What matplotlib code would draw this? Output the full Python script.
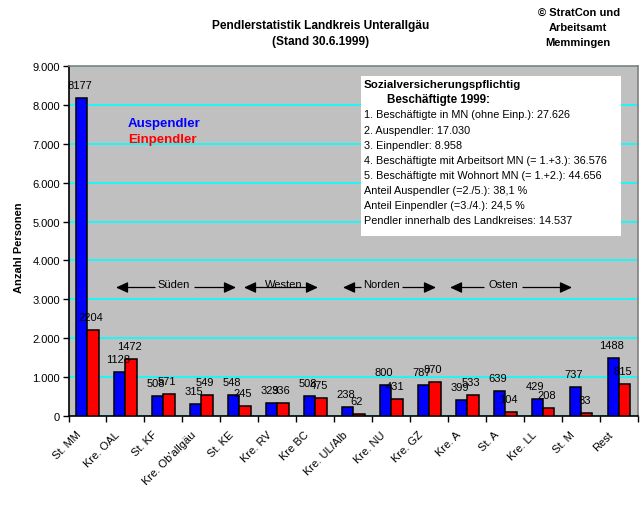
import matplotlib
matplotlib.use("Agg")
import matplotlib.pyplot as plt
import numpy as np

plt.rcParams['font.family'] = ['Liberation Sans', 'DejaVu Sans']

categories = ["St. MM", "Kre. OAL", "St. KF", "Kre. Ob'allgäu", "St. KE", "Kre. RV", "Kre BC",
              "Kre. UL/Alb", "Kre. NU", "Kre. GZ", "Kre. A", "St. A", "Kre. LL", "St. M", "Rest"]
auspendler = [8177, 1128, 508, 315, 548, 329, 508, 238, 800, 787, 399, 639, 429, 737, 1488]
einpendler = [2204, 1472, 571, 549, 245, 336, 475, 62, 431, 870, 533, 104, 208, 83, 815]
yticks = [0, 1000, 2000, 3000, 4000, 5000, 6000, 7000, 8000, 9000]
yticklabels = ["0", "1.000", "2.000", "3.000", "4.000", "5.000", "6.000", "7.000", "8.000", "9.000"]
box_lines = ["1. Beschäftigte in MN (ohne Einp.): 27.626",
             "2. Auspendler: 17.030",
             "3. Einpendler: 8.958",
             "4. Beschäftigte mit Arbeitsort MN (= 1.+3.): 36.576",
             "5. Beschäftigte mit Wohnort MN (= 1.+2.): 44.656",
             "Anteil Auspendler (=2./5.): 38,1 %",
             "Anteil Einpendler (=3./4.): 24,5 %",
             "Pendler innerhalb des Landkreises: 14.537"]

W, H = 642, 510
fig = plt.figure(figsize=(W / 100, H / 100), dpi=100, facecolor='white')
L, R, T, B = 68.5, 638, 67, 417
ax = fig.add_axes([L / W, 1 - B / H, (R - L) / W, (B - T) / H], facecolor='#c0c0c0')


def fx(x):
    return x / W


def fy(y):
    return 1 - y / H


x = np.arange(len(categories))
w = 0.3
ax.set_axisbelow(True)
ax.bar(x - w / 2, auspendler, w, color='#0000ff', edgecolor='black', linewidth=1.1, zorder=3)
ax.bar(x + w / 2, einpendler, w, color='#ff0000', edgecolor='black', linewidth=1.1, zorder=3)
ax.set_xlim(-0.5, len(categories) - 0.5)
ax.set_ylim(0, 9000)
ax.set_yticks(yticks, yticklabels, fontsize=8)
ax.set_xticks(np.arange(len(categories) + 1) - 0.5, minor=False)
ax.set_xticklabels([])
ax.yaxis.grid(True, color='#00ffff', linewidth=1.2)
ax.xaxis.grid(False)
ax.tick_params(axis='both', length=4, width=1, color='black', pad=2)
for s, c in (('left', 'black'), ('bottom', 'black'), ('top', '#808080'), ('right', '#808080')):
    ax.spines[s].set_color(c)
    ax.spines[s].set_linewidth(1.2)

for i, c in enumerate(categories):
    ax.annotate(c, (i, 0), xytext=(-11, -13), textcoords='offset pixels', rotation=45, ha='right',
                va='top', rotation_mode='anchor', fontsize=8, annotation_clip=False)

for i, (a, e) in enumerate(zip(auspendler, einpendler)):
    ax.annotate(str(a), (i - w / 2, a), xytext=(-2, 8), textcoords='offset pixels', ha='center',
                va='bottom', fontsize=8, zorder=5)
    ax.annotate(str(e), (i + w / 2, e), xytext=(-2, 8), textcoords='offset pixels', ha='center',
                va='bottom', fontsize=8, zorder=5)

fig.text(fx(19), fy(248), "Anzahl Personen", rotation=90, ha='center', va='center', fontsize=8, fontweight='bold')
fig.text(fx(321), fy(26.5), "Pendlerstatistik Landkreis Unterallgäu", ha='center', va='center', fontsize=8.55, fontweight='bold')
fig.text(fx(321), fy(42.5), "(Stand 30.6.1999)", ha='center', va='center', fontsize=8.55, fontweight='bold')
for yy, t in ((13, "© StratCon und"), (28, "Arbeitsamt"), (43, "Memmingen")):
    fig.text(fx(578) if yy > 20 else fx(579), fy(yy), t, ha='center', va='center', fontsize=8, fontweight='bold')

fig.text(fx(128), fy(123.5), "Auspendler", color='#0000ff', fontsize=9.5, fontweight='bold', va='center')
fig.text(fx(128), fy(140.5), "Einpendler", color='#ff0000', fontsize=9.5, fontweight='bold', va='center')

box = plt.Rectangle((fx(361), fy(236.5)), 260 / W, 159.5 / H, transform=fig.transFigure,
                    facecolor='white', edgecolor='none', zorder=6)
ax.add_patch(box)
ax.patches[-1].set_clip_on(False)
fig.text(fx(363.5), fy(85.5), "Sozialversicherungspflichtig", fontsize=8.25, fontweight='bold', va='center', zorder=7)
fig.text(fx(387), fy(100.5), "Beschäftigte 1999:", fontsize=8.4, fontweight='bold', va='center', zorder=7)
for k, t in enumerate(box_lines):
    fig.text(fx(363.5), fy(115.5 + k * 15.1), t, fontsize=7.85, va='center', zorder=7)


def arrow(x0, x1, y=288.5):
    ax.annotate('', xy=(fx(x1), fy(y)), xytext=(fx(x0), fy(y)), xycoords='figure fraction',
                textcoords='figure fraction',
                arrowprops=dict(arrowstyle='-|>,head_length=0.72,head_width=0.33', color='black', lw=0.9,
                                mutation_scale=10, shrinkA=0, shrinkB=0), zorder=4)


for start, tip in ((155, 116), (195, 236), (281, 244), (281, 318), (361, 343), (403, 436), (484, 450), (523, 572)):
    arrow(start, tip)

for xx, t in ((174, "Süden"), (284, "Westen"), (381, "Norden"), (503, "Osten")):
    ax.text(fx(xx), fy(285.5), t, transform=fig.transFigure, ha='center', va='center', fontsize=8, zorder=5)

fig.savefig("out.png", dpi=100, facecolor='white')
